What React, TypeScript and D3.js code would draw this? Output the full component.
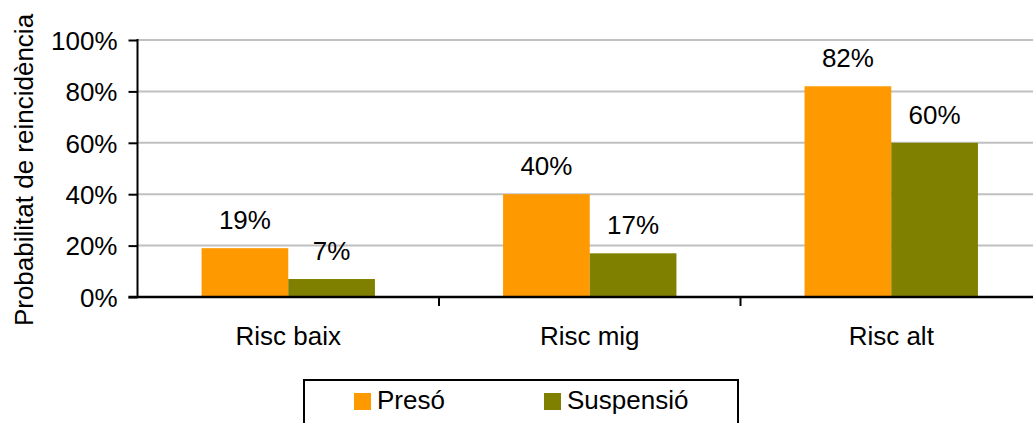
import React, { useEffect, useRef } from "react";
import * as d3 from "d3";

const categories = ["Risc baix", "Risc mig", "Risc alt"];
const seriesNames = ["Presó", "Suspensió"];
const preso = [19, 40, 82];
const suspensio = [7, 17, 60];
const yTicks = [0, 20, 40, 60, 80, 100];
const seriesColors = ["#FF9900", "#808000"];

const App = () => {
  const svgRef = useRef<SVGSVGElement | null>(null);

  useEffect(() => {
    const width = 1033;
    const margin = { top: 40, left: 137.5, bottom: 297 };
    const font = "'Liberation Sans', Arial, sans-serif";
    const fontSize = 26;

    const svg = d3.select(svgRef.current);
    svg.selectAll("*").remove();

    const values = [preso, suspensio];
    const data = categories.map((c, i) => ({
      cat: c,
      vals: seriesNames.map((s, j) => ({ s, v: values[j][i] })),
    }));

    const x0 = d3
      .scaleBand()
      .domain(categories)
      .range([margin.left, 1042])
      .padding(0);
    const x1 = d3
      .scaleBand()
      .domain(seriesNames)
      .range([0, x0.bandwidth()])
      .paddingInner(0)
      .paddingOuter(0.739);
    const y = d3.scaleLinear().domain([0, 100]).range([margin.bottom, margin.top]);
    const color = d3.scaleOrdinal<string, string>().domain(seriesNames).range(seriesColors);

    // gridlines
    svg
      .append("g")
      .selectAll("line")
      .data(yTicks.slice(1))
      .join("line")
      .attr("x1", margin.left)
      .attr("x2", width)
      .attr("y1", (d) => y(d))
      .attr("y2", (d) => y(d))
      .attr("stroke", "#c0c0c0")
      .attr("stroke-width", 2);

    // bars
    const groups = svg
      .append("g")
      .selectAll("g")
      .data(data)
      .join("g")
      .attr("transform", (d) => `translate(${x0(d.cat)},0)`);

    groups
      .selectAll("rect")
      .data((d) => d.vals)
      .join("rect")
      .attr("x", (d) => x1(d.s)!)
      .attr("width", x1.bandwidth())
      .attr("y", (d) => y(d.v))
      .attr("height", (d) => y(0) - y(d.v))
      .attr("fill", (d) => color(d.s));

    groups
      .selectAll("text")
      .data((d) => d.vals)
      .join("text")
      .attr("x", (d) => x1(d.s)! + x1.bandwidth() / 2)
      .attr("y", (d) => y(d.v) - 19)
      .attr("text-anchor", "middle")
      .attr("font-family", font)
      .attr("font-size", fontSize)
      .text((d) => `${d.v}%`);

    // y axis
    const yAxis = svg
      .append("g")
      .attr("transform", `translate(${margin.left},0)`)
      .call(
        d3
          .axisLeft(y)
          .tickValues(yTicks)
          .tickSize(9)
          .tickPadding(11)
          .tickFormat((d) => `${d}%`)
      );
    yAxis.select(".domain").attr("stroke", "#000").attr("stroke-width", 2).attr("d", `M0,${margin.top - 1}V${margin.bottom + 1}`);
    yAxis.selectAll(".tick line").attr("stroke", "#000").attr("stroke-width", 2);
    yAxis
      .selectAll(".tick text")
      .attr("font-family", font)
      .attr("font-size", fontSize)
      .attr("fill", "#000")
      .attr("dy", "0.36em");

    // x axis
    svg
      .append("line")
      .attr("x1", margin.left - 9)
      .attr("x2", width)
      .attr("y1", y(0))
      .attr("y2", y(0))
      .attr("stroke", "#000")
      .attr("stroke-width", 2.5);

    svg
      .append("g")
      .selectAll("line")
      .data(categories.slice(1))
      .join("line")
      .attr("x1", (d) => x0(d)!)
      .attr("x2", (d) => x0(d)!)
      .attr("y1", y(0))
      .attr("y2", y(0) + 9)
      .attr("stroke", "#000")
      .attr("stroke-width", 2);

    svg
      .append("g")
      .selectAll("text")
      .data(categories)
      .join("text")
      .attr("x", (d) => x0(d)! + x0.bandwidth() / 2)
      .attr("y", 345)
      .attr("text-anchor", "middle")
      .attr("font-family", font)
      .attr("font-size", fontSize)
      .text((d) => d);

    // y title
    svg
      .append("text")
      .attr("transform", `translate(33,170) rotate(-90)`)
      .attr("text-anchor", "middle")
      .attr("font-family", font)
      .attr("font-size", fontSize)
      .text("Probabilitat de reincidència");

    // legend
    const legend = svg.append("g");
    legend
      .append("rect")
      .attr("x", 304)
      .attr("y", 380)
      .attr("width", 434)
      .attr("height", 60)
      .attr("fill", "#fff")
      .attr("stroke", "#000")
      .attr("stroke-width", 2);

    const legendX = [354, 544];
    const items = legend
      .selectAll("g")
      .data(seriesNames)
      .join("g")
      .attr("transform", (d, i) => `translate(${legendX[i]},393)`);
    items
      .append("rect")
      .attr("width", 17)
      .attr("height", 17)
      .attr("fill", (d) => color(d));
    items
      .append("text")
      .attr("x", 23)
      .attr("y", 16)
      .attr("font-family", font)
      .attr("font-size", fontSize)
      .text((d) => d);
  }, []);

  return (
    <svg
      ref={svgRef}
      width={1033}
      height={423}
      style={{ position: "absolute", left: 0, top: 0, background: "#fff" }}
    />
  );
};

export default App;
